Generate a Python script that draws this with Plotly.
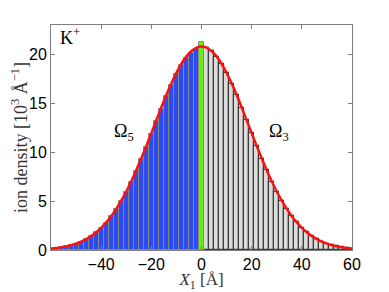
import plotly.graph_objects as go

# bin centres (Å)
x_neg = [-60, -58, -56, -54, -52, -50, -48, -46, -44, -42, -40, -38, -36, -34, -32,
         -30, -28, -26, -24, -22, -20, -18, -16, -14, -12, -10, -8, -6, -4, -2]
x_mid = [0]
x_pos = [2, 4, 6, 8, 10, 12, 14, 16, 18, 20, 22, 24, 26, 28, 30,
         32, 34, 36, 38, 40, 42, 44, 46, 48, 50, 52, 54, 56, 58, 60]

# histogram heights (10^3 Å^-1)
h_neg = [0.13, 0.19, 0.26, 0.36, 0.48, 0.64, 0.85, 1.10, 1.40, 1.79, 2.25, 2.80, 3.43, 4.18, 5.02,
         5.95, 6.98, 8.10, 9.30, 10.55, 11.85, 13.15, 14.45, 15.70, 16.90, 17.95, 18.90, 19.60, 20.15, 20.50]
h_mid = [21.3]
h_pos = [20.60, 20.30, 19.75, 19.00, 18.10, 17.00, 15.85, 14.55, 13.25, 11.95, 10.60, 9.35, 8.15, 7.00, 5.98,
         5.03, 4.20, 3.45, 2.82, 2.27, 1.81, 1.42, 1.11, 0.86, 0.65, 0.49, 0.37, 0.27, 0.20, 0.14]

# fitted density curve
x_fit = [-60, -58, -56, -54, -52, -50, -48, -46, -44, -42, -40, -38, -36, -34, -32,
         -30, -28, -26, -24, -22, -20, -18, -16, -14, -12, -10, -8, -6, -4, -2, 0,
         2, 4, 6, 8, 10, 12, 14, 16, 18, 20, 22, 24, 26, 28, 30,
         32, 34, 36, 38, 40, 42, 44, 46, 48, 50, 52, 54, 56, 58, 60]
y_fit = [0.14, 0.20, 0.27, 0.37, 0.49, 0.65, 0.86, 1.11, 1.42, 1.81, 2.27, 2.82, 3.46, 4.20, 5.04,
         5.98, 7.02, 8.16, 9.37, 10.64, 11.95, 13.28, 14.59, 15.86, 17.04, 18.11, 19.04, 19.79, 20.34, 20.69, 20.80,
         20.69, 20.34, 19.79, 19.04, 18.11, 17.04, 15.86, 14.59, 13.28, 11.95, 10.64, 9.37, 8.16, 7.02, 5.98,
         5.04, 4.20, 3.46, 2.82, 2.27, 1.81, 1.42, 1.11, 0.86, 0.65, 0.49, 0.37, 0.27, 0.20, 0.14]

x_ticks = [-40, -20, 0, 20, 40, 60]
x_tick_labels = ["−40", "−20", "0", "20", "40", "60"]
y_ticks = [0, 5, 10, 15, 20]

serif = "Liberation Serif, DejaVu Serif, serif"
sans = "Liberation Sans, Arial, sans-serif"

fig = go.Figure()
fig.add_trace(go.Bar(x=x_neg, y=h_neg, width=2,
                     marker=dict(color="#2b4bf5", line=dict(color="#8a8a7a", width=1))))
fig.add_trace(go.Bar(x=x_pos, y=h_pos, width=2,
                     marker=dict(color="#dcdcdc", line=dict(color="#3c3c3c", width=1.2))))
fig.add_trace(go.Bar(x=x_mid, y=h_mid, width=2,
                     marker=dict(color="#66ee11", line=dict(color="#8a8a7a", width=1))))
fig.add_trace(go.Scatter(x=x_fit, y=y_fit, mode="lines", line=dict(color="#ff1010", width=2.5, shape="spline")))

fig.add_annotation(x=-52.5, y=21.8, text="K<sup>+</sup>", showarrow=False,
                   font=dict(family=serif, size=18, color="black"))
fig.add_annotation(x=-31, y=12.0, text="Ω<sub>5</sub>", showarrow=False,
                   font=dict(family=serif, size=18, color="black"))
fig.add_annotation(x=31, y=12.0, text="Ω<sub>3</sub>", showarrow=False,
                   font=dict(family=serif, size=18, color="black"))

# the page body has an 8px margin, so the figure is sized and offset to compensate
fig.update_layout(
    width=381, height=284,
    margin=dict(l=43, r=37, t=17, b=42),
    paper_bgcolor="white", plot_bgcolor="white",
    showlegend=False, barmode="overlay", bargap=0,
)
fig.update_xaxes(range=[-60, 60], tickvals=x_ticks, ticktext=x_tick_labels, automargin=False,
                 showline=True, mirror="ticks", linecolor="#808080", linewidth=1,
                 ticks="inside", ticklen=4, tickcolor="#808080", showgrid=False, zeroline=False,
                 tickfont=dict(family=sans, size=16, color="black"),
                 title=dict(text="<i>X</i><sub>1</sub> [Å]", font=dict(family=serif, size=17, color="#333"), standoff=4))
fig.update_yaxes(range=[0, 23], tickvals=y_ticks, automargin=False,
                 showline=True, mirror="ticks", linecolor="#808080", linewidth=1,
                 ticks="inside", ticklen=4, tickcolor="#808080", showgrid=False, zeroline=False,
                 tickfont=dict(family=sans, size=16, color="black"),
                 title=dict(text="ion density [10<sup>3</sup> Å<sup>−1</sup>]", font=dict(family=serif, size=18, color="#333"), standoff=7))

fig.write_html("out.html")
